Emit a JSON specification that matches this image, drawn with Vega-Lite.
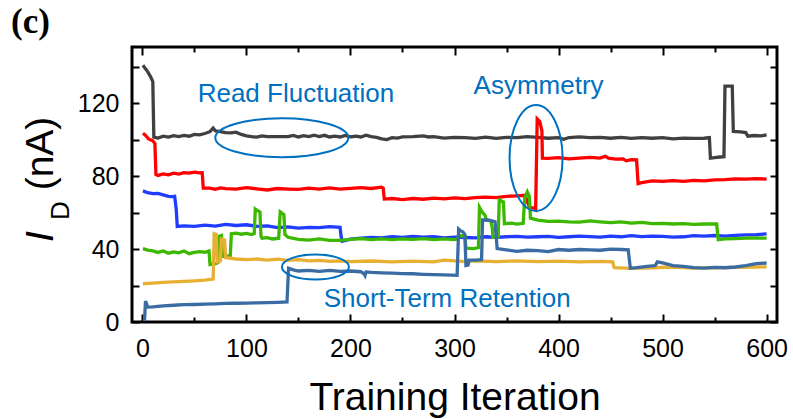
{
  "$schema": "https://vega.github.io/schema/vega-lite/v6.json",
  "width": 645,
  "height": 275,
  "autosize": "none",
  "padding": {"left": 132, "top": 47, "right": 16, "bottom": 97},
  "background": "white",
  "title": {"text": "(c)", "anchor": "start", "frame": "group", "dx": -121, "dy": 33, "offset": 11, "baseline": "alphabetic", "font": "Liberation Serif", "fontSize": 35, "fontWeight": "bold", "color": "black"},
  "config": {
    "view": {"stroke": "black", "strokeWidth": 3},
    "font": "Liberation Sans",
    "axis": {"domain": false, "grid": false, "tickColor": "black", "tickWidth": 2, "labelColor": "black", "titleColor": "black", "labelFont": "Liberation Sans", "titleFont": "Liberation Sans", "labelFontSize": 25, "titleFontSize": 39, "titleFontWeight": "normal"}
  },
  "datasets": {
    "curves": [
      {"s":"A","x":0.5,"y":141},{"s":"A","x":3,"y":139},{"s":"A","x":5,"y":137.5},{"s":"A","x":8,"y":134.5},{"s":"A","x":10,"y":132},{"s":"A","x":10.5,"y":116},{"s":"A","x":11,"y":101.5},{"s":"A","x":15,"y":101},{"s":"A","x":20,"y":102},{"s":"A","x":25,"y":101.5},{"s":"A","x":30,"y":102.3},{"s":"A","x":35,"y":101.8},{"s":"A","x":40,"y":102.5},{"s":"A","x":45,"y":102},{"s":"A","x":50,"y":103},{"s":"A","x":55,"y":102.8},{"s":"A","x":60,"y":103.5},{"s":"A","x":65,"y":104.5},{"s":"A","x":68,"y":106.5},{"s":"A","x":70,"y":105},{"s":"A","x":75,"y":104.5},{"s":"A","x":80,"y":104},{"s":"A","x":85,"y":103.8},{"s":"A","x":90,"y":104.2},{"s":"A","x":95,"y":103},{"s":"A","x":100,"y":102.2},{"s":"A","x":105,"y":101.8},{"s":"A","x":110,"y":101.5},{"s":"A","x":115,"y":102.2},{"s":"A","x":120,"y":101.8},{"s":"A","x":130,"y":101.8},{"s":"A","x":140,"y":101.8},{"s":"A","x":145,"y":102.4},{"s":"A","x":150,"y":101.6},{"s":"A","x":155,"y":102.3},{"s":"A","x":160,"y":101.8},{"s":"A","x":165,"y":102.6},{"s":"A","x":170,"y":101.8},{"s":"A","x":175,"y":102.5},{"s":"A","x":180,"y":101.6},{"s":"A","x":185,"y":102},{"s":"A","x":190,"y":101.6},{"s":"A","x":195,"y":102.4},{"s":"A","x":200,"y":101.7},{"s":"A","x":205,"y":102},{"s":"A","x":210,"y":101.6},{"s":"A","x":215,"y":102.6},{"s":"A","x":220,"y":101.8},{"s":"A","x":225,"y":101.4},{"s":"A","x":230,"y":100.6},{"s":"A","x":235,"y":100.2},{"s":"A","x":240,"y":101.2},{"s":"A","x":245,"y":101},{"s":"A","x":250,"y":101.6},{"s":"A","x":260,"y":101.8},{"s":"A","x":270,"y":102.2},{"s":"A","x":275,"y":101.6},{"s":"A","x":280,"y":101.8},{"s":"A","x":290,"y":101},{"s":"A","x":300,"y":101.4},{"s":"A","x":310,"y":101.2},{"s":"A","x":320,"y":100.8},{"s":"A","x":330,"y":101.5},{"s":"A","x":340,"y":100.8},{"s":"A","x":350,"y":101.4},{"s":"A","x":360,"y":101.2},{"s":"A","x":370,"y":101.8},{"s":"A","x":380,"y":101.4},{"s":"A","x":390,"y":100.9},{"s":"A","x":400,"y":101.2},{"s":"A","x":405,"y":100.3},{"s":"A","x":410,"y":101.3},{"s":"A","x":420,"y":101.6},{"s":"A","x":430,"y":101.2},{"s":"A","x":440,"y":101.4},{"s":"A","x":450,"y":100.9},{"s":"A","x":460,"y":101.4},{"s":"A","x":470,"y":100.8},{"s":"A","x":480,"y":101.2},{"s":"A","x":490,"y":100.9},{"s":"A","x":500,"y":101.2},{"s":"A","x":510,"y":100.6},{"s":"A","x":520,"y":101},{"s":"A","x":530,"y":100.8},{"s":"A","x":540,"y":100.9},{"s":"A","x":545,"y":101.3},{"s":"A","x":546,"y":90},{"s":"A","x":550,"y":90.3},{"s":"A","x":555,"y":90.6},{"s":"A","x":559,"y":90.8},{"s":"A","x":560,"y":129.5},{"s":"A","x":567,"y":129.5},{"s":"A","x":568,"y":104.6},{"s":"A","x":575,"y":104.4},{"s":"A","x":580,"y":104},{"s":"A","x":582,"y":102},{"s":"A","x":588,"y":102.4},{"s":"A","x":595,"y":102.2},{"s":"A","x":600,"y":102.8},

      {"s":"B","x":0.5,"y":103.7},{"s":"B","x":3,"y":102.5},{"s":"B","x":6,"y":100.5},{"s":"B","x":10,"y":99.5},{"s":"B","x":12,"y":98},{"s":"B","x":13,"y":81},{"s":"B","x":15,"y":80.5},{"s":"B","x":20,"y":81.3},{"s":"B","x":25,"y":80.8},{"s":"B","x":30,"y":81.7},{"s":"B","x":35,"y":81.2},{"s":"B","x":40,"y":82},{"s":"B","x":45,"y":81.8},{"s":"B","x":50,"y":82.3},{"s":"B","x":55,"y":81.9},{"s":"B","x":57.5,"y":82},{"s":"B","x":58.5,"y":73.5},{"s":"B","x":65,"y":73.5},{"s":"B","x":70,"y":72.8},{"s":"B","x":75,"y":73.6},{"s":"B","x":80,"y":73.2},{"s":"B","x":90,"y":73},{"s":"B","x":100,"y":73.8},{"s":"B","x":110,"y":73.1},{"s":"B","x":120,"y":72.5},{"s":"B","x":130,"y":73.3},{"s":"B","x":140,"y":73},{"s":"B","x":150,"y":72.8},{"s":"B","x":160,"y":73.5},{"s":"B","x":170,"y":73},{"s":"B","x":180,"y":73.6},{"s":"B","x":190,"y":73},{"s":"B","x":200,"y":73.4},{"s":"B","x":210,"y":73.8},{"s":"B","x":220,"y":73.3},{"s":"B","x":230,"y":74},{"s":"B","x":231.5,"y":73.5},{"s":"B","x":232.5,"y":67.5},{"s":"B","x":240,"y":67.8},{"s":"B","x":250,"y":67.2},{"s":"B","x":260,"y":67.8},{"s":"B","x":270,"y":67.4},{"s":"B","x":280,"y":68},{"s":"B","x":290,"y":67.6},{"s":"B","x":300,"y":68.2},{"s":"B","x":310,"y":67.8},{"s":"B","x":320,"y":68.3},{"s":"B","x":330,"y":68.6},{"s":"B","x":340,"y":68.3},{"s":"B","x":350,"y":69},{"s":"B","x":360,"y":69.3},{"s":"B","x":368,"y":69.6},{"s":"B","x":372,"y":63},{"s":"B","x":377,"y":62.5},{"s":"B","x":378,"y":62},{"s":"B","x":379.5,"y":111.5},{"s":"B","x":382,"y":110},{"s":"B","x":384,"y":105},{"s":"B","x":384.5,"y":90},{"s":"B","x":390,"y":89.8},{"s":"B","x":400,"y":90.2},{"s":"B","x":410,"y":89.6},{"s":"B","x":420,"y":90},{"s":"B","x":430,"y":90.4},{"s":"B","x":440,"y":90},{"s":"B","x":445,"y":91},{"s":"B","x":448,"y":90},{"s":"B","x":455,"y":89.4},{"s":"B","x":462,"y":89.6},{"s":"B","x":465,"y":88.5},{"s":"B","x":470,"y":89.2},{"s":"B","x":475,"y":89},{"s":"B","x":476.5,"y":76},{"s":"B","x":480,"y":76.5},{"s":"B","x":490,"y":77.5},{"s":"B","x":500,"y":77.2},{"s":"B","x":510,"y":77.6},{"s":"B","x":520,"y":77.2},{"s":"B","x":530,"y":77.8},{"s":"B","x":540,"y":77.5},{"s":"B","x":550,"y":78},{"s":"B","x":560,"y":78.2},{"s":"B","x":570,"y":78.6},{"s":"B","x":580,"y":78.4},{"s":"B","x":590,"y":78.7},{"s":"B","x":600,"y":78.5},

      {"s":"C","x":0.5,"y":72},{"s":"C","x":5,"y":71},{"s":"C","x":10,"y":70.5},{"s":"C","x":15,"y":70.6},{"s":"C","x":20,"y":69.8},{"s":"C","x":25,"y":69},{"s":"C","x":28,"y":68.8},{"s":"C","x":31,"y":69},{"s":"C","x":32.5,"y":62},{"s":"C","x":33.5,"y":52.5},{"s":"C","x":40,"y":52.8},{"s":"C","x":50,"y":52.5},{"s":"C","x":60,"y":53.2},{"s":"C","x":70,"y":52.7},{"s":"C","x":80,"y":53.6},{"s":"C","x":90,"y":53},{"s":"C","x":100,"y":53.4},{"s":"C","x":110,"y":52.5},{"s":"C","x":120,"y":52.8},{"s":"C","x":130,"y":51.8},{"s":"C","x":140,"y":52.2},{"s":"C","x":150,"y":51.6},{"s":"C","x":160,"y":52},{"s":"C","x":170,"y":51.8},{"s":"C","x":180,"y":52.4},{"s":"C","x":190,"y":52},{"s":"C","x":191,"y":47},{"s":"C","x":192,"y":44.3},{"s":"C","x":200,"y":45.5},{"s":"C","x":210,"y":46},{"s":"C","x":220,"y":46.5},{"s":"C","x":230,"y":46.2},{"s":"C","x":240,"y":46.8},{"s":"C","x":250,"y":46.4},{"s":"C","x":260,"y":47},{"s":"C","x":270,"y":46.6},{"s":"C","x":280,"y":46.8},{"s":"C","x":290,"y":46.2},{"s":"C","x":300,"y":46.6},{"s":"C","x":310,"y":46.4},{"s":"C","x":320,"y":46.2},{"s":"C","x":330,"y":46.8},{"s":"C","x":340,"y":46.5},{"s":"C","x":350,"y":46.8},{"s":"C","x":360,"y":47},{"s":"C","x":370,"y":46.6},{"s":"C","x":380,"y":46.8},{"s":"C","x":390,"y":47},{"s":"C","x":400,"y":46.5},{"s":"C","x":410,"y":46.8},{"s":"C","x":420,"y":47.2},{"s":"C","x":430,"y":46.9},{"s":"C","x":440,"y":46.6},{"s":"C","x":450,"y":47.1},{"s":"C","x":460,"y":46.8},{"s":"C","x":470,"y":47.4},{"s":"C","x":480,"y":46.9},{"s":"C","x":490,"y":47.2},{"s":"C","x":500,"y":47},{"s":"C","x":510,"y":46.6},{"s":"C","x":520,"y":46.8},{"s":"C","x":530,"y":47.4},{"s":"C","x":540,"y":47.2},{"s":"C","x":550,"y":47.5},{"s":"C","x":560,"y":47.2},{"s":"C","x":570,"y":47.6},{"s":"C","x":580,"y":47.8},{"s":"C","x":590,"y":48},{"s":"C","x":600,"y":48.4},

      {"s":"D","x":0.5,"y":40.3},{"s":"D","x":5,"y":39.5},{"s":"D","x":10,"y":39},{"s":"D","x":15,"y":38.2},{"s":"D","x":20,"y":39},{"s":"D","x":25,"y":37.8},{"s":"D","x":30,"y":38.5},{"s":"D","x":35,"y":38},{"s":"D","x":40,"y":39},{"s":"D","x":45,"y":37.5},{"s":"D","x":50,"y":38.2},{"s":"D","x":55,"y":38.6},{"s":"D","x":60,"y":38.3},{"s":"D","x":64,"y":39},{"s":"D","x":65,"y":31.5},{"s":"D","x":70,"y":32},{"s":"D","x":72.5,"y":32.5},{"s":"D","x":73.5,"y":47},{"s":"D","x":76,"y":47.5},{"s":"D","x":77,"y":36},{"s":"D","x":80,"y":36.2},{"s":"D","x":84.5,"y":36.5},{"s":"D","x":85.5,"y":48.5},{"s":"D","x":90,"y":48.8},{"s":"D","x":95,"y":48.2},{"s":"D","x":100,"y":48.6},{"s":"D","x":105,"y":48},{"s":"D","x":107.5,"y":48.5},{"s":"D","x":108.5,"y":62},{"s":"D","x":111,"y":61},{"s":"D","x":113,"y":60.5},{"s":"D","x":114,"y":47},{"s":"D","x":115,"y":46},{"s":"D","x":120,"y":46.3},{"s":"D","x":125,"y":45.6},{"s":"D","x":131,"y":46},{"s":"D","x":132.5,"y":60.5},{"s":"D","x":136,"y":59},{"s":"D","x":137,"y":48},{"s":"D","x":140,"y":46.5},{"s":"D","x":150,"y":45.4},{"s":"D","x":160,"y":45},{"s":"D","x":170,"y":45.6},{"s":"D","x":180,"y":44.8},{"s":"D","x":190,"y":44.8},{"s":"D","x":200,"y":45.4},{"s":"D","x":210,"y":45.8},{"s":"D","x":220,"y":45.2},{"s":"D","x":230,"y":45.6},{"s":"D","x":240,"y":45.2},{"s":"D","x":250,"y":45.6},{"s":"D","x":260,"y":45.4},{"s":"D","x":270,"y":45.8},{"s":"D","x":280,"y":45.2},{"s":"D","x":290,"y":45.6},{"s":"D","x":300,"y":45.2},{"s":"D","x":303,"y":45.6},{"s":"D","x":304,"y":47.5},{"s":"D","x":310,"y":47.2},{"s":"D","x":311,"y":40.5},{"s":"D","x":318,"y":40.3},{"s":"D","x":323,"y":40.8},{"s":"D","x":324,"y":63},{"s":"D","x":327,"y":60},{"s":"D","x":329.5,"y":58.5},{"s":"D","x":330.5,"y":56},{"s":"D","x":335,"y":55.5},{"s":"D","x":336.5,"y":51},{"s":"D","x":337,"y":46.5},{"s":"D","x":342,"y":46.8},{"s":"D","x":343,"y":67},{"s":"D","x":347,"y":66},{"s":"D","x":348,"y":54},{"s":"D","x":355,"y":54.3},{"s":"D","x":360,"y":53.8},{"s":"D","x":366,"y":54.2},{"s":"D","x":367.5,"y":68},{"s":"D","x":370,"y":71.5},{"s":"D","x":372,"y":69},{"s":"D","x":373,"y":57},{"s":"D","x":380,"y":56},{"s":"D","x":390,"y":55.2},{"s":"D","x":400,"y":55.4},{"s":"D","x":410,"y":55},{"s":"D","x":420,"y":54.8},{"s":"D","x":430,"y":55.5},{"s":"D","x":440,"y":55},{"s":"D","x":450,"y":54.6},{"s":"D","x":460,"y":55},{"s":"D","x":470,"y":54.3},{"s":"D","x":480,"y":54.7},{"s":"D","x":490,"y":54},{"s":"D","x":500,"y":54.2},{"s":"D","x":510,"y":53.8},{"s":"D","x":520,"y":54},{"s":"D","x":530,"y":53.6},{"s":"D","x":540,"y":53.8},{"s":"D","x":552,"y":53.8},{"s":"D","x":553.5,"y":45.2},{"s":"D","x":560,"y":45.6},{"s":"D","x":570,"y":45.8},{"s":"D","x":580,"y":46},{"s":"D","x":590,"y":46.2},{"s":"D","x":600,"y":46},

      {"s":"E","x":0.5,"y":21},{"s":"E","x":10,"y":21.4},{"s":"E","x":20,"y":21.8},{"s":"E","x":30,"y":22},{"s":"E","x":40,"y":22.3},{"s":"E","x":50,"y":22.6},{"s":"E","x":60,"y":23},{"s":"E","x":65,"y":23.4},{"s":"E","x":68,"y":23.6},{"s":"E","x":69,"y":48.5},{"s":"E","x":71,"y":48},{"s":"E","x":72,"y":33},{"s":"E","x":75,"y":33.5},{"s":"E","x":76,"y":45.5},{"s":"E","x":79,"y":45},{"s":"E","x":80,"y":35.4},{"s":"E","x":90,"y":34.6},{"s":"E","x":100,"y":34.2},{"s":"E","x":110,"y":34.6},{"s":"E","x":120,"y":34},{"s":"E","x":130,"y":34.5},{"s":"E","x":140,"y":33.8},{"s":"E","x":150,"y":34.2},{"s":"E","x":160,"y":33.6},{"s":"E","x":170,"y":33.8},{"s":"E","x":180,"y":33.3},{"s":"E","x":190,"y":33.6},{"s":"E","x":200,"y":33.2},{"s":"E","x":220,"y":33.5},{"s":"E","x":240,"y":33},{"s":"E","x":260,"y":33.4},{"s":"E","x":280,"y":33},{"s":"E","x":290,"y":34},{"s":"E","x":300,"y":33.6},{"s":"E","x":310,"y":33.2},{"s":"E","x":320,"y":33.6},{"s":"E","x":340,"y":33.2},{"s":"E","x":360,"y":33.6},{"s":"E","x":380,"y":33.2},{"s":"E","x":400,"y":33.4},{"s":"E","x":420,"y":33},{"s":"E","x":440,"y":33.3},{"s":"E","x":452,"y":33},{"s":"E","x":453.5,"y":29.8},{"s":"E","x":470,"y":29.5},{"s":"E","x":490,"y":29.8},{"s":"E","x":510,"y":30.2},{"s":"E","x":530,"y":29.6},{"s":"E","x":550,"y":29.8},{"s":"E","x":570,"y":30},{"s":"E","x":590,"y":30.2},{"s":"E","x":600,"y":30.3},

      {"s":"F","x":2,"y":0.5},{"s":"F","x":2.5,"y":6},{"s":"F","x":3,"y":11.5},{"s":"F","x":4,"y":10},{"s":"F","x":5,"y":8.2},{"s":"F","x":10,"y":8.3},{"s":"F","x":20,"y":8.8},{"s":"F","x":30,"y":9.2},{"s":"F","x":40,"y":9.5},{"s":"F","x":50,"y":9.6},{"s":"F","x":60,"y":9.8},{"s":"F","x":70,"y":10},{"s":"F","x":80,"y":10.2},{"s":"F","x":90,"y":10.3},{"s":"F","x":100,"y":10.4},{"s":"F","x":110,"y":10.5},{"s":"F","x":120,"y":10.6},{"s":"F","x":130,"y":10.8},{"s":"F","x":139,"y":11},{"s":"F","x":140.5,"y":29.5},{"s":"F","x":145,"y":28.6},{"s":"F","x":150,"y":28},{"s":"F","x":160,"y":28.3},{"s":"F","x":170,"y":27.8},{"s":"F","x":180,"y":28.3},{"s":"F","x":190,"y":27.8},{"s":"F","x":200,"y":28},{"s":"F","x":210,"y":27.6},{"s":"F","x":213,"y":26.5},{"s":"F","x":214,"y":25.5},{"s":"F","x":215,"y":27.5},{"s":"F","x":220,"y":27.2},{"s":"F","x":230,"y":27},{"s":"F","x":240,"y":26.8},{"s":"F","x":250,"y":26.6},{"s":"F","x":260,"y":26.5},{"s":"F","x":270,"y":26.2},{"s":"F","x":280,"y":26},{"s":"F","x":290,"y":25.9},{"s":"F","x":302.5,"y":25.6},{"s":"F","x":304,"y":51},{"s":"F","x":306,"y":50},{"s":"F","x":308,"y":49.5},{"s":"F","x":310,"y":48},{"s":"F","x":311,"y":31},{"s":"F","x":313,"y":31.2},{"s":"F","x":314,"y":34},{"s":"F","x":320,"y":34},{"s":"F","x":326,"y":34.2},{"s":"F","x":327,"y":56},{"s":"F","x":332,"y":56},{"s":"F","x":336,"y":55.5},{"s":"F","x":339,"y":55},{"s":"F","x":341,"y":40.3},{"s":"F","x":350,"y":39.6},{"s":"F","x":360,"y":38.8},{"s":"F","x":370,"y":39.4},{"s":"F","x":380,"y":39.2},{"s":"F","x":390,"y":38.6},{"s":"F","x":400,"y":39.8},{"s":"F","x":410,"y":39.4},{"s":"F","x":420,"y":39.8},{"s":"F","x":430,"y":39.6},{"s":"F","x":440,"y":39.4},{"s":"F","x":450,"y":40},{"s":"F","x":460,"y":39.8},{"s":"F","x":467,"y":39.6},{"s":"F","x":469,"y":29.5},{"s":"F","x":475,"y":29.8},{"s":"F","x":485,"y":30.5},{"s":"F","x":493,"y":31},{"s":"F","x":495,"y":33},{"s":"F","x":500,"y":32.5},{"s":"F","x":510,"y":31},{"s":"F","x":520,"y":30.5},{"s":"F","x":530,"y":29.8},{"s":"F","x":540,"y":29.6},{"s":"F","x":550,"y":30},{"s":"F","x":560,"y":29.8},{"s":"F","x":570,"y":30.2},{"s":"F","x":580,"y":31},{"s":"F","x":590,"y":32},{"s":"F","x":600,"y":32.4}
    ],
    "notes": [
      {"label": "Read Fluctuation", "x": 147.6, "y": 120.8},
      {"label": "Asymmetry", "x": 380.8, "y": 125.3},
      {"label": "Short-Term Retention", "x": 293, "y": 8.2}
    ],
    "ringRF": [{"x": 134, "y": 101.2}],
    "ringAS": [{"x": 378.4, "y": 90.1}],
    "ringST": [{"x": 166.3, "y": 30.2}]
  },
  "layer": [
    {
      "data": {"name": "curves"},
      "mark": {"type": "line", "strokeWidth": 3.3, "clip": true},
      "encoding": {
        "x": {"field": "x", "type": "quantitative", "scale": {"domain": [-10, 610], "nice": false, "zero": false},
              "axis": {"orient": "bottom", "values": [0, 100, 200, 300, 400, 500, 600], "tickSize": -8, "labelPadding": 22, "title": "Training Iteration", "titlePadding": 17}},
        "y": {"field": "y", "type": "quantitative", "scale": {"domain": [0, 151], "nice": false},
              "axis": {"orient": "left", "values": [0, 20, 40, 60, 80, 100, 120, 140], "tickSize": -7, "labelPadding": 20, "labelExpr": "datum.value % 40 === 0 ? datum.label : ''",
                       "title": "I", "titleFontStyle": "italic", "titleX": -80, "titleY": 189, "titleAlign": "center", "titleBaseline": "alphabetic", "titleAngle": 270}},
        "color": {"field": "s", "type": "nominal", "legend": null,
                  "scale": {"domain": ["A", "B", "C", "D", "E", "F"], "range": ["#404040", "#ff0000", "#1f3cff", "#3cb800", "#e8b032", "#3a6ca3"]}}
      }
    },
    {
      "data": {"name": "notes"},
      "mark": {"type": "text", "font": "Liberation Sans", "fontSize": 26, "color": "#0070c0", "align": "center", "baseline": "alphabetic"},
      "encoding": {
        "x": {"field": "x", "type": "quantitative", "scale": {"domain": [-10, 610], "nice": false, "zero": false},
              "axis": {"orient": "top", "values": [0, 100, 200, 300, 400, 500, 600], "tickSize": -8, "labels": false, "title": null}},
        "y": {"field": "y", "type": "quantitative", "scale": {"domain": [0, 151], "nice": false},
              "axis": {"orient": "right", "values": [0, 20, 40, 60, 80, 100, 120, 140], "tickSize": -7, "labels": false, "title": null}},
        "text": {"field": "label"}
      }
    },
    {
      "data": {"name": "ringRF"},
      "mark": {"type": "point", "shape": "M-1,0A1,0.293 0 1,0 1,0A1,0.293 0 1,0 -1,0", "size": 17689, "filled": false, "color": "#0070c0", "strokeWidth": 2, "opacity": 1},
      "encoding": {
        "x": {"field": "x", "type": "quantitative", "scale": {"domain": [-10, 610], "nice": false, "zero": false},
              "axis": {"orient": "bottom", "values": [50, 150, 250, 350, 450, 550], "tickSize": -5, "labels": false, "title": null}},
        "y": {"field": "y", "type": "quantitative", "scale": {"domain": [0, 151], "nice": false}, "axis": null}
      }
    },
    {
      "data": {"name": "ringAS"},
      "mark": {"type": "point", "shape": "M0,-1A0.5,1 0 1,0 0,1A0.5,1 0 1,0 0,-1", "size": 11236, "filled": false, "color": "#0070c0", "strokeWidth": 2, "opacity": 1},
      "encoding": {
        "x": {"field": "x", "type": "quantitative", "scale": {"domain": [-10, 610], "nice": false, "zero": false},
              "axis": {"orient": "top", "values": [50, 150, 250, 350, 450, 550], "tickSize": -5, "labels": false, "title": null}},
        "y": {"field": "y", "type": "quantitative", "scale": {"domain": [0, 151], "nice": false},
              "axis": {"orient": "left", "ticks": false, "labels": false, "domain": false, "title": "D", "titleFontSize": 26, "titleX": -64, "titleY": 163, "titleAlign": "center", "titleBaseline": "alphabetic", "titleAngle": 270}}
      }
    },
    {
      "data": {"name": "ringST"},
      "mark": {"type": "point", "shape": "M-1,0A1,0.373 0 1,0 1,0A1,0.373 0 1,0 -1,0", "size": 4489, "filled": false, "color": "#0070c0", "strokeWidth": 2, "opacity": 1},
      "encoding": {
        "x": {"field": "x", "type": "quantitative", "scale": {"domain": [-10, 610], "nice": false, "zero": false}, "axis": null},
        "y": {"field": "y", "type": "quantitative", "scale": {"domain": [0, 151], "nice": false},
              "axis": {"orient": "left", "ticks": false, "labels": false, "domain": false, "title": "(nA)", "titleX": -80, "titleY": 106, "titleAlign": "center", "titleBaseline": "alphabetic", "titleAngle": 270}}
      }
    }
  ],
  "resolve": {"axis": {"x": "independent", "y": "independent"}}
}
